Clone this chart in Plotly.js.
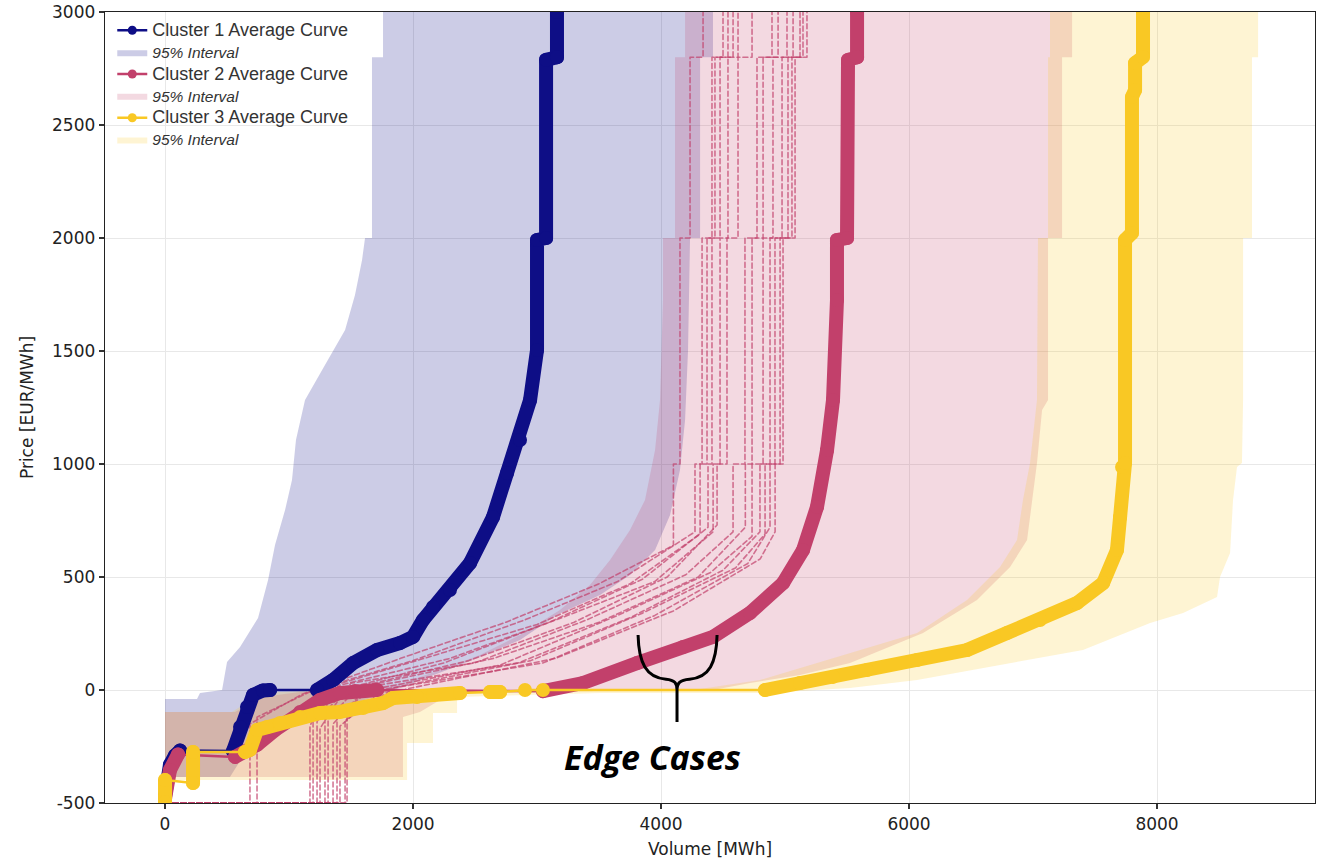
<!DOCTYPE html>
<html>
<head>
<meta charset="utf-8">
<script src="https://cdn.plot.ly/plotly-3.0.1.min.js"></script>
<style>
  html, body { margin: 0; padding: 0; background: #fff; }
  #chart { width: 1327px; height: 859px; }
  .scatterlayer .js-line { stroke-linejoin: round; stroke-linecap: round; }
</style>
</head>
<body>
<div id="chart"></div>
<script>
// ---- axis ticks ----
const volTicks = [0, 2000, 4000, 6000, 8000];
const priceTicks = [-500, 0, 500, 1000, 1500, 2000, 2500, 3000];

// ---- cluster average curves (null = sparse stretch, drawn as a thin connector) ----
const c1Vol = [0, 15, 40, 81, 121, null, 548, 605, 661, 710, 790, 847, null,
  1226, 1355, 1516, 1710, 1895, 2000, 2081, 2161, 2298, 2460, 2645, 2758, 2863, 2944, 3000, 3000, 3073, 3073, 3161, 3161];
const c1Price = [-470, -400, -330, -290, -268, null, -270, -164, -75, -22, -2, 0, null,
  0, 44, 119, 177, 208, 235, 310, 367, 442, 562, 765, 960, 1106, 1283, 1504, 1991, 2000, 2788, 2800, 3000];

const c2Vol = [0, 40, 105, null, 565, 685, 742, 887, 1089, 1250, 1411, 1532, 1710, null,
  3048, 3371, 3806, 4177, 4419, 4718, 4984, 5145, 5258, 5339, 5387, 5419, 5419, 5500, 5508, 5581, 5581];
const c2Price = [-480, -354, -285, null, -296, -265, -243, -177, -97, -44, -13, -4, 0, null,
  -5, 31, 119, 190, 235, 341, 473, 619, 810, 1062, 1283, 1726, 1991, 2000, 2788, 2800, 3000];

const c3Vol = [0, 0, null, 226, 226, null, 645, 685, 742, 823, 927, 1089, 1250, 1411, 1597, 1758, 1839, 2032, 2161, 2379, null,
  2621, 2702, null, 2903, null, 3048, null,
  4839, 5121, 5387, 5661, 6065, 6468, 6790, 7056, 7355, 7565, 7677, 7702, 7718, 7742, 7742, 7798, 7798, 7823, 7823, 7887, 7887];
const c3Price = [-496, -398, null, -412, -274, null, -274, -265, -177, -164, -146, -119, -102, -97, -80, -58, -35, -31, -22, -13, null,
  -9, -9, null, 0, null, 0, null,
  0, 31, 58, 88, 133, 177, 252, 310, 385, 473, 619, 765, 987, 1004, 1991, 2022, 2624, 2655, 2774, 2801, 3000];

// ---- 95% interval outlines (lower-volume edge upwards, then upper-volume edge downwards) ----
const b1Vol = [0, 0, 258, 282, 460, 500, 605, 750, 831, 887, 968, 1024, 1056, 1129, 1290, 1452, 1532, 1589, 1613, 1669, 1669, 1758, 1758,
  4419, 4419, 4315, 4315, 4234, 4218, 4194, 4153, 4073, 3952, 3750, 3508, 3161, 2863, 2379, 2000, 1734, 1411, 1089, 806, 645, 524];
const b1Price = [-385, -40, -40, -13, 0, 124, 190, 319, 487, 642, 796, 929, 1106, 1283, 1438, 1593, 1748, 1903, 2000, 2000, 2800, 2800, 3000,
  3000, 2800, 2800, 2000, 2000, 1504, 1195, 973, 774, 619, 509, 420, 332, 221, 111, 31, -22, -80, -142, -221, -279, -385];

const b2Vol = [0, 0, 565, 782, 1089, 1573, 1895, 2218, 2540, 2863, 3185, 3427, 3589, 3750, 3871, 3952, 3992, 4016, 4016, 4113, 4113, 4194, 4194,
  7315, 7315, 7234, 7234, 7121, 7121, 7073, 7032, 6992, 6952, 6815, 6548, 6113, 5524, 5121, 4718, 4419, 3508, 2355, 2218, 2056, 1919, 1919];
const b2Price = [-385, -97, -97, -31, -9, 9, 27, 88, 155, 243, 354, 465, 575, 708, 841, 1062, 1283, 1726, 2000, 2000, 2800, 2800, 3000,
  3000, 2800, 2800, 2000, 2000, 1283, 1239, 1004, 841, 664, 544, 398, 252, 119, 66, 31, 0, -4, -9, -44, -97, -119, -385];

const b3Vol = [0, 0, 540, 782, 1089, 2702, 4315, 4798, 5524, 6065, 6468, 6734, 6871, 6919, 6976, 7032, 7040, 7121, 7121, 7137, 7137,
  8815, 8815, 8766, 8766, 8694, 8694, 8685, 8645, 8613, 8589, 8508, 8484, 8210, 7944, 7403, 6734, 6065, 5524, 4855, 3508, 2355, 2355, 2161, 2161, 1952, 1952];
const b3Price = [-398, -97, -97, -13, -4, 0, 4, 44, 164, 252, 398, 544, 664, 841, 1004, 1283, 2000, 2000, 2800, 2800, 3000,
  3000, 2800, 2800, 2000, 2000, 1283, 1004, 987, 841, 606, 500, 412, 341, 296, 177, 111, 44, 9, -13, -13, -31, -102, -102, -235, -235, -398];

// ---- individual cluster-2 edge-case curves ----
const edgeVol = [
  [0, 685, 685, 1100, 1900, 2750, 3500, 4100, 4100, 4153, 4153, 4234, 4234, 4339, 4339],
  [0, 742, 742, 1200, 2000, 2900, 3650, 4274, 4274, 4331, 4331, 4411, 4411, 4500, 4500],
  [0, 1169, 1169, 1300, 2150, 3000, 3750, 4315, 4315, 4371, 4371, 4435, 4435, 4540, 4540],
  [0, 1194, 1194, 1350, 2250, 3100, 3850, 4379, 4379, 4411, 4411, 4476, 4476, 4581, 4581],
  [0, 1226, 1226, 1400, 2300, 3200, 3950, 4420, 4420, 4476, 4476, 4540, 4540, 4621, 4621],
  [0, 1250, 1250, 1450, 2450, 3300, 4050, 4452, 4452, 4532, 4532, 4621, 4621, 4734, 4734],
  [0, 1290, 1290, 1500, 2500, 3400, 4200, 4581, 4581, 4677, 4677, 4774, 4774, 4895, 4895],
  [0, 1315, 1315, 1550, 2650, 3500, 4300, 4680, 4680, 4734, 4734, 4823, 4823, 4944, 4944],
  [0, 1355, 1355, 1600, 2700, 3650, 4400, 4734, 4734, 4823, 4823, 4903, 4903, 5016, 5016],
  [0, 1387, 1387, 1700, 2850, 3750, 4500, 4798, 4798, 4879, 4879, 4976, 4976, 5065, 5065],
  [0, 1411, 1411, 1750, 2950, 3850, 4600, 4839, 4839, 4919, 4919, 5024, 5024, 5121, 5121],
  [0, 1452, 1452, 1850, 3050, 3950, 4700, 4879, 4879, 4960, 4960, 5056, 5056, 5145, 5145],
  [0, 1468, 1468, 1950, 3150, 4100, 4800, 4920, 4920, 4984, 4984, 5081, 5081, 5177, 5177]
];
const edgePrice = [
  [-500, -500, -150, -20, 140, 300, 470, 640, 1000, 1000, 2000, 2000, 2800, 2800, 3000],
  [-500, -500, -120, 0, 130, 310, 480, 700, 1000, 1000, 2000, 2000, 2800, 2800, 3000],
  [-500, -500, -160, 10, 150, 290, 470, 690, 1000, 1000, 2000, 2000, 2800, 2800, 3000],
  [-500, -500, -110, -10, 120, 300, 490, 720, 1000, 1000, 2000, 2000, 2800, 2800, 3000],
  [-500, -500, -140, 20, 140, 320, 480, 700, 1000, 1000, 2000, 2000, 2800, 2800, 3000],
  [-500, -500, -170, 0, 130, 300, 500, 730, 1000, 1000, 2000, 2000, 2800, 2800, 3000],
  [-500, -500, -100, 30, 120, 310, 510, 700, 1000, 1000, 2000, 2000, 2800, 2800, 3000],
  [-500, -500, -130, 10, 140, 300, 500, 720, 1000, 1000, 2000, 2000, 2800, 2800, 3000],
  [-500, -500, -150, -5, 110, 330, 520, 680, 1000, 1000, 2000, 2000, 2800, 2800, 3000],
  [-500, -500, -115, 20, 120, 320, 530, 700, 1000, 1000, 2000, 2000, 2800, 2800, 3000],
  [-500, -500, -160, 0, 130, 340, 540, 690, 1000, 1000, 2000, 2000, 2800, 2800, 3000],
  [-500, -500, -135, 10, 120, 330, 560, 720, 1000, 1000, 2000, 2000, 2800, 2800, 3000],
  [-500, -500, -120, 5, 140, 350, 580, 700, 1000, 1000, 2000, 2000, 2800, 2800, 3000]
];

// ---- styling ----
const navy = '#0e0e86';
const crimson = '#c2406b';
const gold = '#f9c824';
const curveName = n => '<span style="font-size:18px">Cluster ' + n + ' Average Curve</span>';
const bandName = '<span style="font-size:15.5px"><i>95% Interval</i></span>';

function band(vol, price, fill, rank) {
  return {
    x: vol, y: price, type: 'scatter', mode: 'lines', fill: 'toself',
    fillcolor: fill, line: { width: 0, color: fill },
    name: bandName, legendrank: rank, hoverinfo: 'skip'
  };
}

function curve(vol, price, color, n, rank) {
  return [
    { // thin connector through every point; also carries the legend entry
      x: vol, y: price, type: 'scatter', mode: 'lines+markers', connectgaps: true,
      line: { color: color, width: 2.5 }, marker: { color: color, size: 9 },
      name: curveName(n), legendrank: rank, hoverinfo: 'skip'
    },
    { // dense stretches drawn as a thick beaded stroke
      x: vol, y: price, type: 'scatter', mode: 'lines+markers', connectgaps: false,
      line: { color: color, width: 14 }, marker: { color: color, size: 14 },
      showlegend: false, hoverinfo: 'skip'
    }
  ];
}

const traces = [
  band(b1Vol, b1Price, 'rgba(0,0,128,0.2)', 2),
  band(b2Vol, b2Price, 'rgba(194,64,107,0.2)', 4),
  band(b3Vol, b3Price, 'rgba(250,200,36,0.2)', 6)
];
edgeVol.forEach((v, i) => {
  traces.push({
    x: v, y: edgePrice[i], type: 'scatter', mode: 'lines',
    line: { color: 'rgba(194,64,107,0.7)', width: 1.6, dash: '5px,3px' },
    showlegend: false, hoverinfo: 'skip'
  });
});
traces.push(...curve(c1Vol, c1Price, navy, 1, 1));
traces.push(...curve(c2Vol, c2Price, crimson, 2, 3));
traces.push(...curve(c3Vol, c3Price, gold, 3, 5));

const axisFont = { family: 'DejaVu Sans', size: 17, color: '#222' };

const layout = {
  width: 1327, height: 859,
  margin: { l: 105, r: 12, t: 12, b: 56 },
  paper_bgcolor: '#fff', plot_bgcolor: '#fff',
  showlegend: true,
  legend: {
    x: 0.006, y: 0.997, xanchor: 'left', yanchor: 'top',
    bgcolor: 'rgba(255,255,255,0)', borderwidth: 0,
    font: { family: 'Liberation Sans', size: 14.5, color: '#333' },
    traceorder: 'normal'
  },
  xaxis: {
    range: [-484, 9274], tickvals: volTicks, ticktext: volTicks.map(String),
    showgrid: true, gridcolor: '#e8e8e8', gridwidth: 1, zeroline: false,
    showline: true, mirror: true, linecolor: '#222', linewidth: 1.3,
    ticks: 'outside', ticklen: 5, tickwidth: 1.2, tickcolor: '#333',
    tickfont: axisFont,
    title: { text: 'Volume [MWh]', font: axisFont, standoff: 10 }
  },
  yaxis: {
    range: [-500, 3000], tickvals: priceTicks, ticktext: priceTicks.map(String),
    showgrid: true, gridcolor: '#e8e8e8', gridwidth: 1, zeroline: false,
    showline: true, mirror: true, linecolor: '#222', linewidth: 1.3,
    ticks: 'outside', ticklen: 5, tickwidth: 1.2, tickcolor: '#333',
    tickfont: axisFont,
    title: { text: 'Price [EUR/MWh]', font: axisFont, standoff: 14 }
  },
  shapes: [
    { // legend panel backdrop
      type: 'rect', xref: 'paper', yref: 'paper', x0: 0, x1: 0.213, y0: 0.735, y1: 1,
      fillcolor: '#fff', line: { width: 0 }, layer: 'between'
    },
    { // brace pointing at the edge cases
      type: 'path', xref: 'x', yref: 'y',
      path: 'M3815,243 C3820,120 3880,55 4040,48 C4110,45 4129,30 4129,0 L4129,-142 ' +
            'M4452,243 C4447,120 4390,55 4230,48 C4150,45 4129,30 4129,0',
      line: { color: '#000', width: 3 }, layer: 'above'
    }
  ],
  annotations: [
    {
      x: 3935, y: -296, xref: 'x', yref: 'y', showarrow: false,
      text: '<b><i>Edge Cases</i></b>',
      font: { family: 'Open Sans', size: 34, color: '#000' }
    }
  ]
};

Plotly.newPlot('chart', traces, layout, { staticPlot: true, displayModeBar: false });
</script>
</body>
</html>
